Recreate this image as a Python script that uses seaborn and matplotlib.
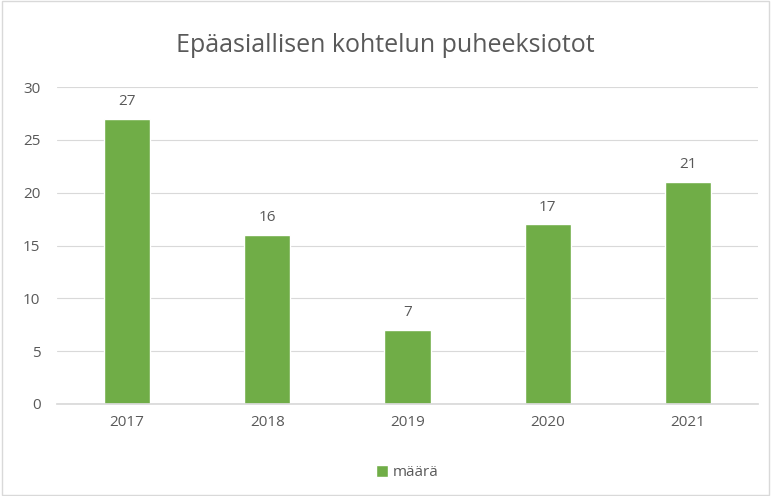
import matplotlib
matplotlib.use("Agg")
import matplotlib.pyplot as plt
import seaborn as sns
import pandas as pd
from matplotlib.patches import Rectangle

years = ["2017", "2018", "2019", "2020", "2021"]
counts = [27, 16, 7, 17, 21]
title = "Epäasiallisen kohtelun puheeksiotot"
series_name = "määrä"

green = "#70AD47"
text_col = "#595959"
grid_col = "#D9D9D9"

sns.set_theme(style="white")
plt.rcParams["font.family"] = ["Open Sans", "DejaVu Sans"]

df = pd.DataFrame({"year": years, "count": counts})

fig = plt.figure(figsize=(7.71, 4.96), dpi=100)
ax = fig.add_axes([0.074, 0.1855, 0.909, 0.639])

sns.barplot(data=df, x="year", y="count", color=green, width=0.33,
            saturation=1, ax=ax, label=series_name)

for c in ax.containers:
    ax.bar_label(c, padding=7, fontsize=11, color=text_col)

ax.set_ylim(0, 30)
ax.set_yticks(range(0, 31, 5))
ax.set_xlim(-0.5, 4.5)
ax.yaxis.grid(True, color=grid_col, linewidth=0.8)
ax.set_axisbelow(True)
for side in ["top", "right", "left"]:
    ax.spines[side].set_visible(False)
ax.spines["bottom"].set_color(grid_col)
ax.tick_params(axis="both", length=0, labelsize=11, colors=text_col, pad=8)
ax.tick_params(axis="y", pad=12)
ax.set_xlabel("")
ax.set_ylabel("")

fig.text(0.5, 0.908, title, ha="center", va="center", fontsize=18, color=text_col)

leg = ax.legend(loc="upper center", bbox_to_anchor=(0.5, -0.15), frameon=False,
                fontsize=11, handlelength=0.8, handleheight=0.8, handletextpad=0.3)
for t in leg.get_texts():
    t.set_color(text_col)

fig.patches.append(Rectangle((0.002, 0.002), 0.996, 0.996, transform=fig.transFigure,
                             fill=False, edgecolor=grid_col, linewidth=1))

fig.savefig("out.png", dpi=100)
